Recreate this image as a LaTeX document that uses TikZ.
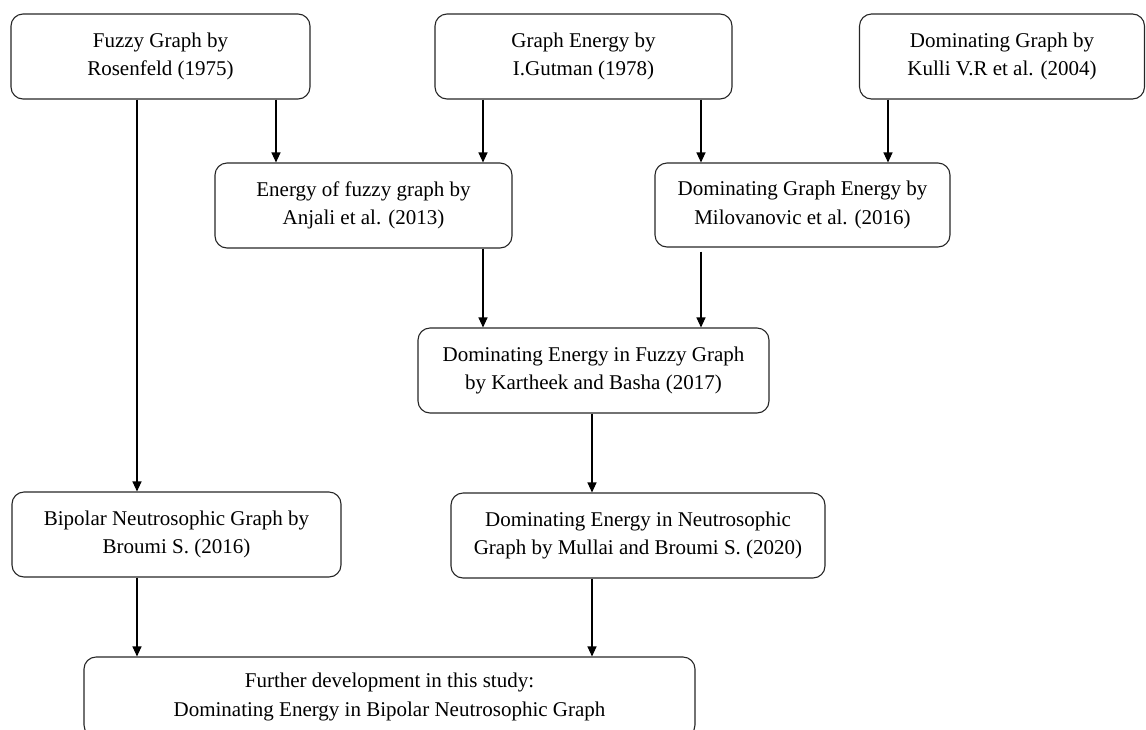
\documentclass[tikz,border=0pt]{standalone}
\usepackage{fontspec}
\setmainfont{Liberation Serif}
\usetikzlibrary{arrows.meta}

\tikzset{
  stagebox/.style={draw=black!85, line width=1.1pt, rounded corners=12pt,
    align=center, inner sep=0pt, font=\fontsize{21}{28.5}\selectfont},
  flow/.style={draw=black, line width=1.1pt, -{Triangle[length=10pt,width=9pt]}}
}

\begin{document}
\begin{tikzpicture}[x=1pt,y=-1pt]
\useasboundingbox (0,0) rectangle (1146,729);
\clip (0,0) rectangle (1146,729);

% top row
\node[stagebox, minimum width=299pt, minimum height=85pt] (fuzzy) at (160.5,56.5)
  {Fuzzy Graph by\\Rosenfeld (1975)};
\node[stagebox, minimum width=297pt, minimum height=85pt] (energy) at (583.5,56.5)
  {Graph Energy by\\I.Gutman (1978)};
\node[stagebox, minimum width=285pt, minimum height=85pt] (domg) at (1002,56.5)
  {Dominating Graph by\\Kulli V.R et al. (2004)};

% second row
\node[stagebox, minimum width=297pt, minimum height=85pt] (fuzzyen) at (363.5,205.5)
  {Energy of fuzzy graph by\\Anjali et al. (2013)};
\node[stagebox, minimum width=295pt, minimum height=84pt] (domen) at (802.5,205)
  {Dominating Graph Energy by\\Milovanovic et al. (2016)};

% third row
\node[stagebox, minimum width=351pt, minimum height=85pt] (domfuzzy) at (593.5,370.5)
  {Dominating Energy in Fuzzy Graph\\by Kartheek and Basha (2017)};

% fourth row
\node[stagebox, minimum width=329pt, minimum height=85pt] (bipolar) at (176.5,534.5)
  {Bipolar Neutrosophic Graph by\\Broumi S. (2016)};
\node[stagebox, minimum width=374pt, minimum height=85pt] (domneutro) at (638,535.5)
  {Dominating Energy in Neutrosophic\\Graph by Mullai and Broumi S. (2020)};

% study box
\node[stagebox, minimum width=611pt, minimum height=80pt] (study) at (389.5,697)
  {Further development in this study:\\Dominating Energy in Bipolar Neutrosophic Graph};

% connector columns
\coordinate (c1) at (137,0);
\coordinate (c2) at (276,0);
\coordinate (c3) at (483,0);
\coordinate (c4) at (701,0);
\coordinate (c5) at (888,0);
\coordinate (c6) at (592,0);

\draw[flow] (fuzzy.south -| c1) -- (bipolar.north -| c1);
\draw[flow] (fuzzy.south -| c2) -- (fuzzyen.north -| c2);
\draw[flow] (energy.south -| c3) -- (fuzzyen.north -| c3);
\draw[flow] (energy.south -| c4) -- (domen.north -| c4);
\draw[flow] (domg.south -| c5) -- (domen.north -| c5);
\draw[flow] (fuzzyen.south -| c3) -- (domfuzzy.north -| c3);
\draw[flow, shorten <=4pt] (domen.south -| c4) -- (domfuzzy.north -| c4);
\draw[flow] (domfuzzy.south -| c6) -- (domneutro.north -| c6);
\draw[flow] (bipolar.south -| c1) -- (study.north -| c1);
\draw[flow] (domneutro.south -| c6) -- (study.north -| c6);
\end{tikzpicture}
\end{document}
